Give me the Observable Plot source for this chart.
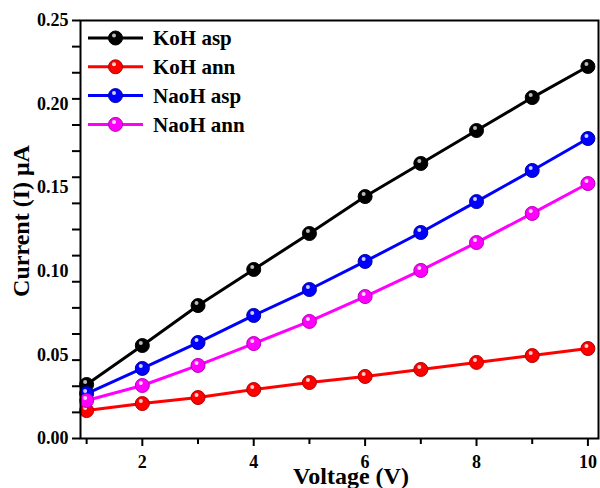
<!DOCTYPE html>
<html>
<head>
<meta charset="utf-8">
<script src="https://cdn.jsdelivr.net/npm/d3@7"></script>
<script src="https://cdn.jsdelivr.net/npm/@observablehq/plot@0.6"></script>
<style>
  html, body { margin: 0; padding: 0; background: #fff; }
  #chart { width: 600px; height: 488px; position: relative; }
  #overlay { position: absolute; left: 0; top: 0; pointer-events: none; }
</style>
</head>
<body>
<div id="chart"></div>
<script>
// ---- data ----
const voltage = [1, 2, 3, 4, 5, 6, 7, 8, 9, 10];
const kohAsp  = [0.0323, 0.0556, 0.0795, 0.1011, 0.1226, 0.1447, 0.1645, 0.1842, 0.2039, 0.2225];
const kohAnn  = [0.0167, 0.0209, 0.0245, 0.0293, 0.0335, 0.0371, 0.0413, 0.0455, 0.0496, 0.0538];
const naohAsp = [0.0269, 0.0419, 0.0574, 0.0736, 0.0891, 0.1059, 0.1232, 0.1417, 0.1603, 0.1794];
const naohAnn = [0.0227, 0.0317, 0.0437, 0.0568, 0.0700, 0.0849, 0.1005, 0.1172, 0.1346, 0.1525];

const seriesNames  = ["KoH asp", "KoH ann", "NaoH asp", "NaoH ann"];
const seriesValues = [kohAsp, kohAnn, naohAsp, naohAnn];
const seriesColors = ["#000000", "#ff0000", "#0000ff", "#ff00ff"];
const seriesDark   = ["#000000", "#b00000", "#0000a0", "#b000b0"];
const seriesShine  = ["#bbbbbb", "#ffd0d0", "#d0d0ff", "#ffd8ff"];

const xTickLabels = [2, 4, 6, 8, 10];
const xMinorTicks = [1, 3, 5, 7, 9];
const yTickLabels = [0, 0.05, 0.10, 0.15, 0.20, 0.25];
const yTickMarks  = d3.range(17).map(i => i * 0.25 / 16);

const xDomain = [0.89, 10.19];
const yDomain = [0, 0.25];

const xTitle = "Voltage (V)";
const yTitle = "Current (I) \u03bcA";

// ---- table ----
const rows = [];
seriesNames.forEach((name, s) => voltage.forEach((v, i) => rows.push({series: name, s, x: v, y: seriesValues[s][i]})));

const FONT = "'Liberation Serif', 'Times New Roman', serif";

const marks = [];
seriesNames.forEach((name, s) => {
  const d = rows.filter(r => r.s === s);
  marks.push(Plot.line(d, {x: "x", y: "y", stroke: seriesColors[s], strokeWidth: 3}));
  marks.push(Plot.dot(d, {x: "x", y: "y", r: 7, fill: seriesColors[s], stroke: seriesDark[s], strokeWidth: 1}));
  marks.push(Plot.dot(d, {x: "x", y: "y", r: 2, fill: seriesShine[s], dx: -1.5, dy: -2.5}));
});

const plot = Plot.plot({
  width: 600, height: 488,
  marginLeft: 80, marginRight: 2, marginTop: 20, marginBottom: 50,
  style: {fontFamily: FONT, fontWeight: "bold", fontSize: "18px", color: "#000", background: "#fff", overflow: "visible"},
  x: {domain: xDomain},
  y: {domain: yDomain},
  marks: [
    ...marks,
    Plot.frame({stroke: "#000", strokeWidth: 2}),
    // tick marks drawn as short rules just outside the frame
    Plot.ruleY(yTickMarks, {y: d => d, x1: xDomain[0], x2: xDomain[0], insetLeft: -8, stroke: "#000", strokeWidth: 2}),
    Plot.ruleX(xTickLabels, {x: d => d, y1: yDomain[0], y2: yDomain[0], insetBottom: -8, stroke: "#000", strokeWidth: 2}),
    Plot.ruleX(xMinorTicks, {x: d => d, y1: yDomain[0], y2: yDomain[0], insetBottom: -6, stroke: "#000", strokeWidth: 2}),
    // tick labels
    Plot.axisX({ticks: xTickLabels, tickSize: 0, tickPadding: 17, fontSize: 18, label: null}),
    Plot.axisY({ticks: yTickLabels, tickSize: 0, tickPadding: 12, tickFormat: d3.format(".2f"), fontSize: 18, label: null})
  ]
});
document.getElementById("chart").appendChild(plot);

// ---- overlay: axis titles and legend ----
const ov = d3.select("#chart").append("svg")
  .attr("id", "overlay").attr("width", 600).attr("height", 488)
  .style("font-family", FONT).style("font-weight", "bold");

ov.append("text")
  .attr("x", 351).attr("y", 484).attr("text-anchor", "middle")
  .style("font-size", "24px").attr("fill", "#000")
  .text(xTitle);

ov.append("text")
  .attr("transform", "translate(29,221) rotate(-90)").attr("text-anchor", "middle")
  .style("font-size", "24px").attr("fill", "#000")
  .text(yTitle);

seriesNames.forEach((name, s) => {
  const y = 38 + s * 28.8;
  ov.append("line").attr("x1", 88).attr("x2", 143).attr("y1", y).attr("y2", y)
    .attr("stroke", seriesColors[s]).attr("stroke-width", 3);
  ov.append("circle").attr("cx", 115.5).attr("cy", y).attr("r", 7)
    .attr("fill", seriesColors[s]).attr("stroke", seriesDark[s]).attr("stroke-width", 1);
  ov.append("circle").attr("cx", 114).attr("cy", y - 2.5).attr("r", 2)
    .attr("fill", seriesShine[s]);
  ov.append("text").attr("x", 153).attr("y", y).attr("dy", "0.35em")
    .attr("text-anchor", "start")
    .style("font-size", "21px").attr("fill", "#000")
    .text(name);
});
</script>
</body>
</html>
